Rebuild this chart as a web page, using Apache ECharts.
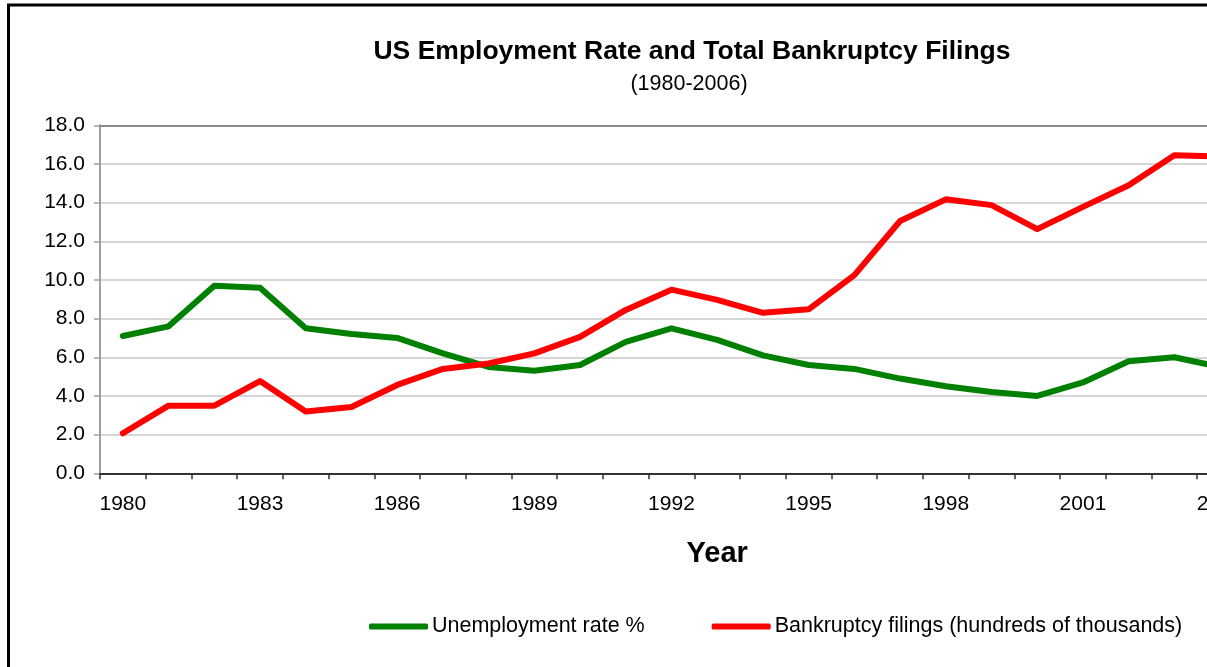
<!DOCTYPE html>
<html>
<head>
<meta charset="utf-8">
<script src="https://cdn.jsdelivr.net/npm/echarts@6/dist/echarts.min.js"></script>
<style>
  html, body { margin: 0; padding: 0; background: #fff; overflow: hidden; }
  #chart { width: 1380px; height: 667px; }
</style>
</head>
<body>
<div id="chart"></div>
<script>
// Years on the category axis (1980-2006)
const years = [];
for (let y = 1980; y <= 2006; y++) years.push(String(y));

// Unemployment rate, percent
const unemploymentRate = [7.1, 7.6, 9.7, 9.6, 7.5, 7.2, 7.0, 6.2, 5.5, 5.3,
  5.6, 6.8, 7.5, 6.9, 6.1, 5.6, 5.4, 4.9, 4.5, 4.2,
  4.0, 4.7, 5.8, 6.0, 5.5];

// Total bankruptcy filings, hundreds of thousands
const bankruptcyFilings = [2.07, 3.5, 3.5, 4.77, 3.2, 3.43, 4.57, 5.4, 5.68, 6.2,
  7.06, 8.45, 9.5, 8.97, 8.3, 8.48, 10.25, 13.05, 14.17, 13.87,
  12.63, 13.78, 14.9, 16.45, 16.38];

const seriesNames = ['Unemployment rate %', 'Bankruptcy filings (hundreds of thousands)'];
const seriesColors = ['#008000', '#ff0000'];

const FONT = '"Liberation Sans", Arial, sans-serif';

const chart = echarts.init(document.getElementById('chart'), null, { renderer: 'canvas' });

chart.setOption({
  backgroundColor: '#fff',
  animation: false,
  textStyle: { fontFamily: FONT },
  title: [
    {
      text: 'US Employment Rate and Total Bankruptcy Filings',
      left: 687, top: 33, textAlign: 'center',
      textStyle: { fontFamily: FONT, fontSize: 26.5, fontWeight: 'bold', color: '#000' }
    },
    {
      text: '(1980-2006)',
      left: 684, top: 68, textAlign: 'center',
      textStyle: { fontFamily: FONT, fontSize: 21.5, fontWeight: 'normal', color: '#000' }
    }
  ],
  graphic: [
    {
      type: 'rect', silent: true, z: 100,
      shape: { x: 8.5, y: 5, width: 1400, height: 700 },
      style: { fill: 'none', stroke: '#000', lineWidth: 3 }
    }
  ],
  legend: {
    left: 369, top: 615.5, padding: 0,
    itemWidth: 59, itemHeight: 6, itemGap: 67,
    icon: 'roundRect',
    textStyle: { fontFamily: FONT, fontSize: 21.5, color: '#000', padding: [0, 0, 0, -1] },
    data: seriesNames
  },
  grid: { left: 100, top: 125.3, width: 1234.4, height: 348, containLabel: false },
  xAxis: [
    {
      type: 'category',
      data: years,
      boundaryGap: true,
      name: 'Year',
      nameLocation: 'middle',
      nameGap: 66,
      nameTextStyle: { fontFamily: FONT, fontSize: 29, fontWeight: 'bold', color: '#000' },
      axisLine: { show: true, lineStyle: { color: '#333', width: 2 } },
      axisTick: { show: true, interval: 0, length: 6, lineStyle: { color: '#333', width: 1.5 } },
      axisLabel: { interval: 2, margin: 20, fontFamily: FONT, fontSize: 21, color: '#000' },
      splitLine: { show: false }
    },
    {
      // plot-area top edge
      type: 'category',
      data: years,
      position: 'top',
      axisLine: { show: true, lineStyle: { color: '#8c8c8c', width: 2 } },
      axisTick: { show: false },
      axisLabel: { show: false },
      splitLine: { show: false }
    }
  ],
  yAxis: {
    type: 'value',
    min: 0, max: 18, interval: 2,
    axisLine: { show: true, lineStyle: { color: '#a0a0a0', width: 2 } },
    axisTick: { show: true, length: 6, lineStyle: { color: '#a0a0a0', width: 1.5 } },
    axisLabel: {
      margin: 15, fontFamily: FONT, fontSize: 21, color: '#000',
      formatter: v => v.toFixed(1)
    },
    splitLine: { show: true, lineStyle: { color: '#c8c8c8', width: 1.5 } }
  },
  series: [
    {
      name: seriesNames[0], type: 'line', data: unemploymentRate,
      showSymbol: false, symbol: 'none', color: seriesColors[0],
      lineStyle: { width: 6, color: seriesColors[0], cap: 'round', join: 'round' }
    },
    {
      name: seriesNames[1], type: 'line', data: bankruptcyFilings,
      showSymbol: false, symbol: 'none', color: seriesColors[1],
      lineStyle: { width: 6, color: seriesColors[1], cap: 'round', join: 'round' }
    }
  ]
});
</script>
</body>
</html>
